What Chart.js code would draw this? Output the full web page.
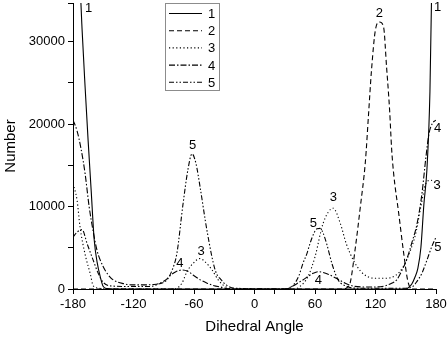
<!DOCTYPE html>
<html>
<head>
<meta charset="utf-8">
<script src="https://cdn.jsdelivr.net/npm/chart.js@4.4.1/dist/chart.umd.min.js"></script>
<style>
  html, body { margin: 0; padding: 0; background: #fff; }
</style>
</head>
<body>
<canvas id="c" width="448" height="340"></canvas>
<script>
const FONT = "Arial, 'Liberation Sans', sans-serif";

// dihedral angle (deg) / number
const ang1 = [-180, -177, -174, -171, -168, -165, -162, -159, -156, -153, -150, -146, -140, 140, 150, 153, 156, 159, 162, 165, 168, 171, 174, 177, 180];
const num1 = [75000, 52000, 40000, 31500, 24500, 18000, 12000, 6000, 3200, 1500, 300, 50, 0, 0, 0, 200, 600, 1400, 2500, 5000, 10300, 14500, 24000, 46000, 62000];

const ang2 = [-180, 88, 92, 95, 100, 105, 110, 113, 116, 120, 124, 128, 131, 134, 136, 138, 143, 148, 152, 156, 180];
const num2 = [0, 0, 200, 800, 5000, 10000, 15500, 21000, 26500, 31500, 32400, 31800, 26900, 21700, 17000, 14000, 9200, 4300, 1000, 0, 0];

const ang3 = [-180, -176, -173, -168, -163, -160, -155, -140, -80, -72, -67, -61, -54, -49, -42, -36, -29, -20, 40, 45, 53, 60, 68, 78, 85, 91, 98, 105, 112, 120, 130, 140, 148, 155, 160, 165, 170, 175, 180];
const num3 = [12800, 10800, 7500, 4200, 1900, 400, 100, 0, 0, 700, 2100, 3100, 3700, 3300, 2300, 1100, 300, 0, 0, 300, 1500, 3900, 7950, 9800, 8000, 5500, 3500, 2200, 1500, 1300, 1300, 1650, 2800, 4800, 6800, 10000, 12800, 13200, 12800];

const ang4 = [-180, -176, -172, -168, -164, -160, -156, -150, -145, -140, -130, -120, -110, -100, -94, -88, -83, -78, -72, -66, -61, -55, -47, -40, -34, -25, 30, 38, 44, 48, 54, 58, 63, 68, 73, 78, 84, 90, 98, 110, 120, 130, 136, 141, 146, 151, 156, 161, 166, 170, 173, 176, 180];
const num4 = [20500, 19200, 17000, 14000, 10000, 7000, 4600, 2700, 1700, 1100, 650, 500, 500, 550, 700, 1100, 1700, 2100, 2300, 2150, 1700, 1200, 700, 400, 250, 0, 0, 350, 800, 1100, 1600, 1900, 2100, 2000, 1800, 1500, 1100, 700, 350, 250, 250, 400, 700, 1100, 2200, 3600, 5600, 7800, 11500, 16000, 18800, 20000, 20500];

const ang5 = [-180, -176, -171, -166, -160, -155, -150, -140, -120, -104, -95, -87, -82, -77, -71, -66, -62, -58, -54, -47, -39, -33, -28, -20, 30, 38, 44, 48, 52, 55, 59, 62, 65, 68, 72, 77, 83, 91, 100, 150, 157, 161, 166, 171, 176, 180];
const num5 = [6300, 6900, 7200, 5500, 3500, 1900, 800, 350, 300, 300, 600, 1100, 2200, 4300, 10200, 14500, 16400, 15200, 12400, 7000, 2300, 1100, 500, 100, 0, 400, 1600, 3100, 4300, 5500, 6800, 7300, 7350, 6800, 5300, 3000, 1100, 350, 100, 100, 300, 900, 1900, 3500, 5200, 6300];

const seriesNames = ['1', '2', '3', '4', '5'];

// curve labels
const tagText = ['1', '1', '2', '3', '3', '3', '4', '4', '4', '5', '5', '5'];
const tagAng = [-164.5, 181.5, 123.8, -53, 78.2, 181, -73.9, 63.3, 181.5, -61.3, 58.3, 181.8];
const tagNum = [34000, 34200, 33400, 4600, 11100, 12600, 3100, 1030, 19500, 17400, 7950, 5050];

// axis ticks (unlabelled ones are minor)
const xTicks = [-180, -160, -140, -120, -100, -80, -60, -40, -20, 0, 20, 40, 60, 80, 100, 120, 140, 160, 180];
const xLabels = [-180, -120, -60, 0, 60, 120, 180];
const yMax = 34700;
const yTicks = [0, 5000, 10000, 15000, 20000, 25000, 30000, yMax];
const yLabels = [0, 10000, 20000, 30000];

function pts(xs, ys) {
  return xs.map((x, i) => ({ x, y: ys[i] }));
}

function curve(label, data, dash) {
  return {
    label,
    data,
    borderColor: '#000',
    borderWidth: 1.1,
    borderDash: dash,
    pointRadius: 0,
    fill: false,
    cubicInterpolationMode: 'monotone',
  };
}

const legendBox = {
  id: 'legendBox',
  afterDraw(chart) {
    const ctx = chart.ctx;
    ctx.save();
    ctx.strokeStyle = '#8c8c8c';
    ctx.lineWidth = 1;
    ctx.strokeRect(165.5, 3.5, 54, 87);
    chart.data.datasets.forEach((ds, i) => {
      const y = 13.5 + i * 17.2;
      ctx.strokeStyle = '#000';
      ctx.lineWidth = ds.borderWidth;
      ctx.setLineDash(ds.borderDash);
      ctx.beginPath();
      ctx.moveTo(169, y);
      ctx.lineTo(202, y);
      ctx.stroke();
      ctx.setLineDash([]);
      ctx.fillStyle = '#000';
      ctx.font = '13px ' + FONT;
      ctx.textAlign = 'left';
      ctx.textBaseline = 'middle';
      ctx.fillText(ds.label, 208, y + 1);
    });
    ctx.restore();
  },
};

const curveTags = {
  id: 'curveTags',
  afterDraw(chart) {
    const { ctx, scales } = chart;
    ctx.save();
    ctx.fillStyle = '#000';
    ctx.font = '13px ' + FONT;
    ctx.textAlign = 'center';
    ctx.textBaseline = 'middle';
    tagText.forEach((t, i) => {
      ctx.fillText(t, scales.x.getPixelForValue(tagAng[i]), scales.y.getPixelForValue(tagNum[i]));
    });
    ctx.restore();
  },
};

new Chart(document.getElementById('c'), {
  type: 'line',
  data: {
    datasets: [
      curve(seriesNames[0], pts(ang1, num1), []),
      curve(seriesNames[1], pts(ang2, num2), [5, 3]),
      curve(seriesNames[2], pts(ang3, num3), [1.2, 2.4]),
      curve(seriesNames[3], pts(ang4, num4), [6, 2, 1.5, 2]),
      curve(seriesNames[4], pts(ang5, num5), [5, 2, 1.5, 2, 1.5, 2]),
    ],
  },
  options: {
    responsive: false,
    animation: false,
    layout: { padding: { top: 3, right: 12, left: 0, bottom: 0 } },
    plugins: { legend: { display: false }, tooltip: { enabled: false } },
    scales: {
      x: {
        type: 'linear',
        min: -180,
        max: 180,
        afterBuildTicks: (s) => { s.ticks = xTicks.map((value) => ({ value })); },
        afterFit: (s) => { s.height = 51; s.paddingLeft = 0; s.paddingRight = 0; },
        ticks: {
          autoSkip: false,
          maxRotation: 0,
          padding: 3,
          color: '#000',
          font: { family: FONT, size: 13 },
          callback: (v) => (xLabels.includes(v) ? String(v) : ''),
        },
        grid: { drawOnChartArea: false, tickLength: 5, color: '#000' },
        border: { display: true, color: '#000', width: 1 },
        title: { display: true, text: 'Dihedral Angle', color: '#000', font: { family: FONT, size: 15 }, padding: { top: 2, bottom: 4 } },
      },
      y: {
        min: 0,
        max: yMax,
        afterBuildTicks: (s) => { s.ticks = yTicks.map((value) => ({ value })); },
        afterFit: (s) => { s.width = 73; s.paddingTop = 0; s.paddingBottom = 0; },
        ticks: {
          autoSkip: false,
          padding: 3,
          color: '#000',
          font: { family: FONT, size: 13 },
          callback: (v) => (yLabels.includes(v) ? String(v) : ''),
        },
        grid: { drawOnChartArea: false, tickLength: 5, color: '#000' },
        border: { display: true, color: '#000', width: 1 },
        title: { display: true, text: 'Number', color: '#000', font: { family: FONT, size: 15 }, padding: { top: 2, bottom: 2 } },
      },
    },
  },
  plugins: [legendBox, curveTags],
});
</script>
</body>
</html>
